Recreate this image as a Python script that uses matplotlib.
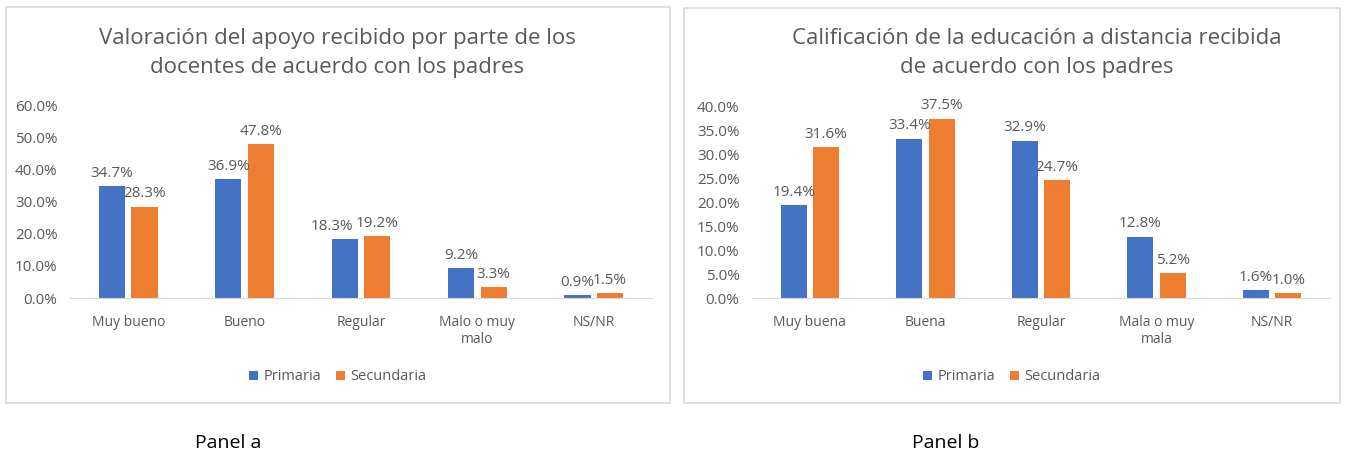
import matplotlib.pyplot as plt
from matplotlib.patches import Rectangle
from matplotlib.ticker import PercentFormatter
import numpy as np

plt.rcParams['font.family'] = ['Open Sans', 'DejaVu Sans']

# panel a
cats_a = ["Muy bueno", "Bueno", "Regular", "Malo o muy\nmalo", "NS/NR"]
primaria_a = [34.7, 36.9, 18.3, 9.2, 0.9]
secundaria_a = [28.3, 47.8, 19.2, 3.3, 1.5]
title_a = "Valoración del apoyo recibido por parte de los\ndocentes de acuerdo con los padres"

# panel b
cats_b = ["Muy buena", "Buena", "Regular", "Mala o muy\nmala", "NS/NR"]
primaria_b = [19.4, 33.4, 32.9, 12.8, 1.6]
secundaria_b = [31.6, 37.5, 24.7, 5.2, 1.0]
title_b = "Calificación de la educación a distancia recibida\nde acuerdo con los padres"

blue = "#4472c4"
orange = "#ed7d31"
grey = "#595959"
W, H = 1346, 457

fig = plt.figure(figsize=(W / 100, H / 100), dpi=100)


def px(x0, y0, x1, y1):
    # pixel box (top-left origin) -> figure fraction rect
    return [x0 / W, 1 - y1 / H, (x1 - x0) / W, (y1 - y0) / H]


def panel(box, axbox, cats, prim, sec, title, ymax, step, title_x, label, label_x, nudge):
    b = px(*box)
    fig.patches.append(Rectangle((b[0], b[1]), b[2], b[3], transform=fig.transFigure,
                                 fill=False, edgecolor="#d9d9d9", lw=1.2))
    ax = fig.add_axes(px(*axbox))
    x = np.arange(len(cats))
    w = 0.225
    off = 0.14
    b1 = ax.bar(x - off, prim, w, color=blue, label="Primaria")
    b2 = ax.bar(x + off, sec, w, color=orange, label="Secundaria")
    for s, bars in enumerate((b1, b2)):
        for i, r in enumerate(bars):
            dx = nudge.get((s, i), 0)
            ax.annotate(f"{r.get_height():.1f}%", (r.get_x() + r.get_width() / 2, r.get_height()),
                        xytext=(dx, 4), textcoords="offset points", ha="center", va="bottom",
                        fontsize=11, color=grey)
    ax.set_xlim(-0.5, len(cats) - 0.5)
    ax.set_ylim(0, ymax)
    ax.set_yticks(np.arange(0, ymax + 0.01, step))
    ax.yaxis.set_major_formatter(PercentFormatter(decimals=1))
    ax.set_xticks(x, cats)
    ax.tick_params(axis="both", length=0, colors=grey)
    ax.tick_params(axis="x", pad=12, labelsize=10)
    ax.tick_params(axis="y", pad=9, labelsize=11)
    for s in ("top", "right", "left"):
        ax.spines[s].set_visible(False)
    ax.spines["bottom"].set_color("#d9d9d9")
    ax.set_facecolor("none")
    fig.text(title_x / W, 1 - 53 / H, title, ha="center", va="center", fontsize=16,
             color=grey, linespacing=1.5)
    cx = (box[0] + box[2]) / 2
    leg = fig.legend(handles=[b1, b2], loc="center", bbox_to_anchor=(cx / W, 1 - 377 / H),
                     ncol=2, frameon=False, fontsize=10.5, handlelength=0.6, handleheight=0.6,
                     columnspacing=1.0, handletextpad=0.4)
    for t in leg.get_texts():
        t.set_color(grey)
    fig.text(label_x / W, 1 - 443 / H, label, ha="center", va="center",
             fontsize=14, color="black")
    return ax


panel((6, 7, 670, 403), (70, 105, 652, 298), cats_a, primaria_a, secundaria_a, title_a,
      60, 10, 337, "Panel a", 228, {(0, 2): -9})
panel((684, 8, 1340, 403), (752, 107, 1330, 298), cats_b, primaria_b, secundaria_b, title_b,
      40, 5, 1037, "Panel b", 946, {})

fig.savefig("out.png", dpi=100)
